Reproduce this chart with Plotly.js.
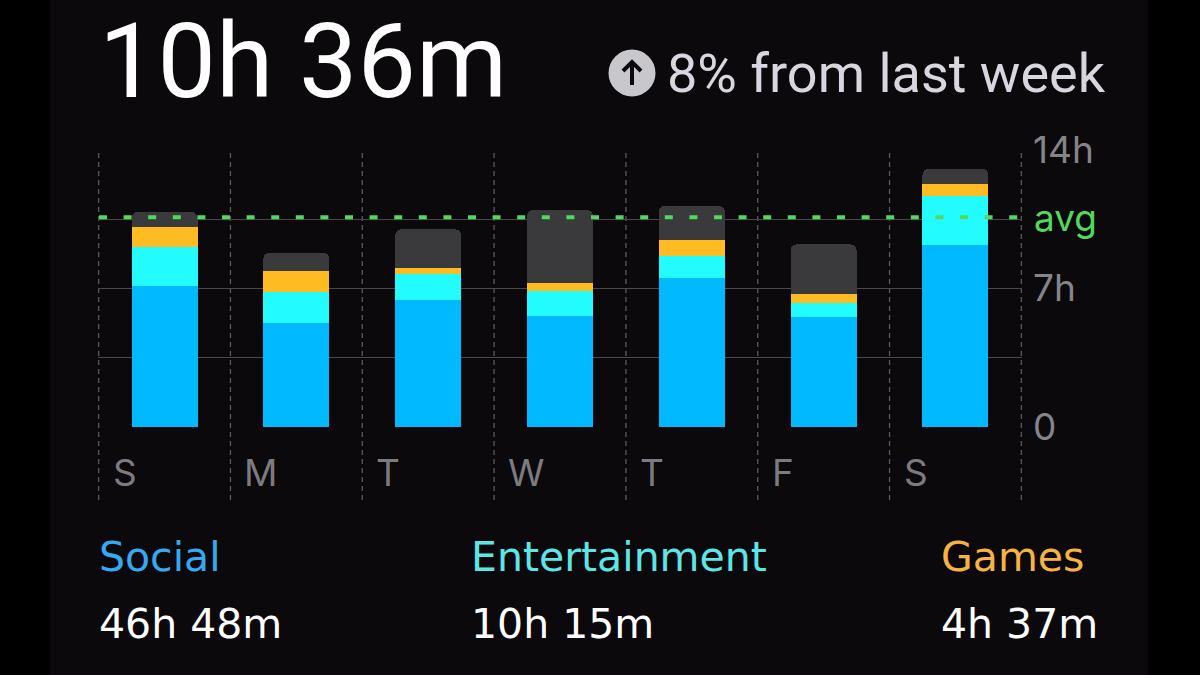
<!DOCTYPE html>
<html><head><meta charset="utf-8">
<script src="https://cdn.plot.ly/plotly-3.0.1.min.js"></script>
<style>
html,body{margin:0;padding:0;background:#000;}
#chart{width:1200px;height:675px;background:linear-gradient(to right,#000 0,#000 50px,#0c090d 50px,#0c090d 1148px,#000 1148px);}
</style></head><body><div id="chart"></div>
<script>
// ---- data ----
const days = ["Sun","Mon","Tue","Wed","Thu","Fri","Sat"];
const dayLabels = ["S","M","T","W","T","F","S"];
const social = [7.14,5.27,6.42,5.62,7.51,5.54,9.18];
const entertainment = [1.97,1.57,1.31,1.27,1.13,0.71,2.51];
const games = [0.98,1.04,0.32,0.37,0.81,0.45,0.57];
const other = [0.78,0.93,1.94,3.71,1.73,2.53,0.79];
const avgHours = 10.6;
const yTickVals = [0,3.5,7,10.5,14];
const yTickText = ["0","","7h","","14h"];
const headline = "10h 36m";
const changeText = "8% from last week";
const categoryNames = ["Social","Entertainment","Games"];
const categoryTotals = ["46h 48m","10h 15m","4h 37m"];

// ---- style ----
const W = 1200, H = 675;
const M = {l:98, r:178, t:150, b:248};
const PW = W - M.l - M.r, PH = H - M.t - M.b;
const px = x => (x - M.l) / PW;          // pixel -> paper x
const py = y => (H - M.b - y) / PH;      // pixel -> paper y
const FONT = "Inter, 'Noto Sans', sans-serif";
const HEAD_FONT = "Roboto, Inter, sans-serif";
const BOTTOM_FONT = "'DejaVu Sans', Inter, sans-serif";
const colors = {social:"#00b9ff", ent:"#22fbff", games:"#ffbb22", other:"#3a3a3c"};
const catColors = ["#35a9f2","#5ce6e6","#f5b343"];

const mk = (name, y, c) => ({
  type:"bar", name, x:days, y, width:0.5,
  marker:{color:c, line:{width:0}}, hoverinfo:"skip"
});
const data = [
  mk("Social", social, colors.social),
  mk("Entertainment", entertainment, colors.ent),
  mk("Games", games, colors.games),
  mk("Other", other, colors.other)
];

const shapes = [];
// vertical dashed separators
for (let i = 0; i <= days.length; i++) {
  shapes.push({type:"line", xref:"x", yref:"paper", x0:i-0.5, x1:i-0.5,
    y0:py(500), y1:1, layer:"below", line:{color:"#5a585f", width:1.3, dash:"5px,4px"}});
}
// avg line
shapes.push({type:"line", xref:"paper", yref:"y", x0:px(99), x1:1, y0:avgHours, y1:avgHours,
  layer:"above", line:{color:"#52d85c", width:4, dash:"8px,16.6px"}});
// arrow icon
const cx = 632, cy = 73, r = 23.5;
shapes.push({type:"circle", xref:"paper", yref:"paper", x0:px(cx-r), x1:px(cx+r), y0:py(cy+r), y1:py(cy-r),
  fillcolor:"#c8c8cc", line:{width:0}});
const P = (x,y) => px(x) + "," + py(y);
shapes.push({type:"path", xref:"paper", yref:"paper",
  path:"M" + P(cx,cy+12) + " L" + P(cx,cy-11),
  line:{color:"#0c090d", width:4}});
shapes.push({type:"path", xref:"paper", yref:"paper",
  path:"M" + P(cx-9,cy-2) + " L" + P(cx,cy-11) + " L" + P(cx+9,cy-2),
  line:{color:"#0c090d", width:4}});

const annotations = [];
annotations.push({xref:"paper", yref:"paper", x:px(98), y:py(0), xanchor:"left", yanchor:"top",
  text:headline, showarrow:false, borderpad:0, font:{family:HEAD_FONT, size:104, color:"#ffffff"}});
annotations.push({xref:"paper", yref:"paper", x:px(665), y:py(73), xanchor:"left", yanchor:"middle",
  text:changeText, showarrow:false, font:{family:HEAD_FONT, size:54, color:"#d8d6de"}});
annotations.push({xref:"paper", yref:"y", x:1, xshift:10, y:avgHours, xanchor:"left", yanchor:"middle",
  text:"avg", showarrow:false, font:{family:FONT, size:37, color:"#52d85c"}});
days.forEach((d,i) => annotations.push({xref:"x", yref:"paper", x:i-0.5, xshift:12, y:py(472),
  xanchor:"left", yanchor:"middle", text:dayLabels[i], showarrow:false,
  font:{family:FONT, size:37, color:"#7c7b80"}}));
const catX = [97, 469, 939];
categoryNames.forEach((n,i) => {
  annotations.push({xref:"paper", yref:"paper", x:px(catX[i]), y:py(557), xanchor:"left", yanchor:"middle",
    text:n, showarrow:false, font:{family:BOTTOM_FONT, size:41, color:catColors[i]}});
  annotations.push({xref:"paper", yref:"paper", x:px(catX[i]), y:py(624), xanchor:"left", yanchor:"middle",
    text:categoryTotals[i], showarrow:false, font:{family:BOTTOM_FONT, size:41, color:"#ffffff"}});
});

const layout = {
  width:W, height:H, margin:M,
  paper_bgcolor:"rgba(0,0,0,0)", plot_bgcolor:"rgba(0,0,0,0)",
  barmode:"stack", barcornerradius:6, showlegend:false,
  xaxis:{type:"category", showticklabels:false, showgrid:false, zeroline:false, showline:false, fixedrange:true},
  yaxis:{side:"right", range:[0,14], tickvals:yTickVals, ticktext:yTickText, showgrid:true,
    gridcolor:"#4a484e", gridwidth:1.2, zeroline:false, showline:false, ticks:"", ticklabelstandoff:10,
    tickfont:{family:FONT, size:37, color:"#858489"}, fixedrange:true},
  shapes, annotations
};
Plotly.newPlot("chart", data, layout, {displayModeBar:false, staticPlot:true});
</script></body></html>
